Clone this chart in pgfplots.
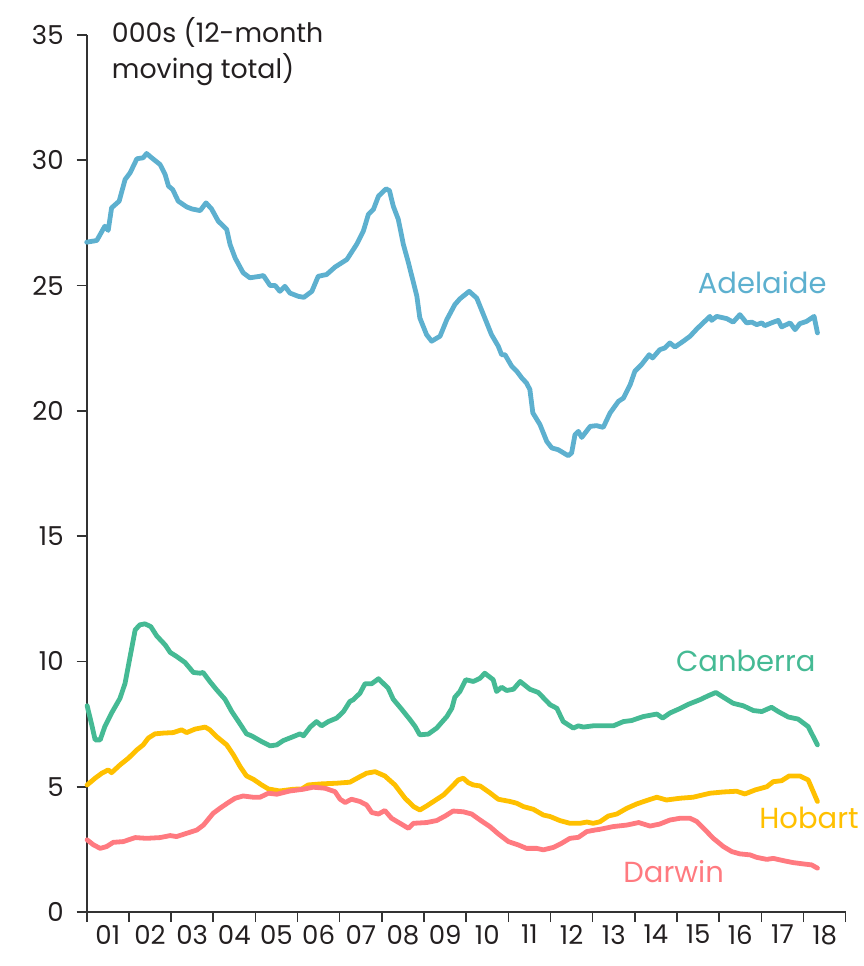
\documentclass[border=0pt]{standalone}
\usepackage{fontspec}
\setmainfont{Poppins}
\usepackage{pgfplots}
\pgfplotsset{compat=1.18}
\usetikzlibrary{calc}
\definecolor{adel}{RGB}{93,176,207}
\definecolor{canb}{RGB}{69,186,148}
\definecolor{hoba}{RGB}{255,192,0}
\definecolor{darw}{RGB}{255,122,128}
\definecolor{txt}{RGB}{35,31,32}

\begin{document}
\begin{tikzpicture}
\begin{axis}[
  name=ax,
  scale only axis,
  width=379.5pt, height=438.5pt,
  xmin=2001, xmax=2019,
  ymin=0, ymax=35,
  axis x line*=bottom, axis y line*=left,
  axis line style={black!80, line width=0.8pt},
  tick style={black!80, line width=0.8pt},
  tick align=outside,
  major tick length=5pt,
  xtick={2001,2002,...,2019},
  xticklabels={},
  extra x ticks={2001.5,2002.5,...,2018.5},
  extra x tick labels={01,02,03,04,05,06,07,08,09,10,11,12,13,14,15,16,17,18},
  extra x tick style={major tick length=0pt, tick style={draw=none}},
  ytick={0,5,...,35},
  tick label style={font=\fontsize{13}{14}\selectfont, text=txt},
  /pgf/number format/assume math mode=true,
  yticklabel style={xshift=-3pt},
  xticklabel style={yshift=-3pt},
  clip=false,
  every axis plot/.append style={line width=2.4pt, line join=round, line cap=round},
]

% Adelaide
\addplot[adel] coordinates {
(2001.00,26.73)(2001.24,26.80)(2001.43,27.37)(2001.51,27.20)(2001.59,28.10)(2001.77,28.37)(2001.91,29.23)(2002.03,29.50)(2002.19,30.06)(2002.34,30.10)(2002.42,30.27)(2002.54,30.10)(2002.74,29.83)(2002.86,29.43)(2002.94,28.97)(2003.04,28.83)(2003.17,28.37)(2003.37,28.14)(2003.49,28.06)(2003.69,27.99)(2003.83,28.30)(2003.96,28.06)(2004.12,27.57)(2004.32,27.24)(2004.40,26.64)(2004.52,26.10)(2004.71,25.51)(2004.87,25.31)(2005.11,25.37)(2005.19,25.40)(2005.35,25.00)(2005.47,25.00)(2005.58,24.77)(2005.70,24.97)(2005.82,24.70)(2006.02,24.57)(2006.15,24.53)(2006.34,24.77)(2006.49,25.37)(2006.69,25.44)(2006.89,25.74)(2007.17,26.04)(2007.40,26.64)(2007.56,27.17)(2007.68,27.84)(2007.80,28.04)(2007.92,28.57)(2008.10,28.86)(2008.18,28.79)(2008.27,28.17)(2008.39,27.64)(2008.51,26.64)(2008.63,25.91)(2008.75,25.11)(2008.83,24.57)(2008.90,23.71)(2009.06,23.04)(2009.18,22.78)(2009.38,22.98)(2009.54,23.64)(2009.73,24.24)(2009.85,24.47)(2010.07,24.77)(2010.25,24.50)(2010.44,23.71)(2010.60,23.04)(2010.76,22.58)(2010.84,22.24)(2010.92,22.24)(2011.08,21.78)(2011.20,21.58)(2011.32,21.31)(2011.43,21.11)(2011.51,20.85)(2011.58,19.92)(2011.75,19.45)(2011.91,18.78)(2012.03,18.52)(2012.18,18.45)(2012.42,18.21)(2012.50,18.32)(2012.58,19.05)(2012.66,19.18)(2012.74,18.94)(2012.94,19.38)(2013.09,19.41)(2013.25,19.34)(2013.41,19.91)(2013.61,20.38)(2013.73,20.51)(2013.89,21.05)(2014.00,21.58)(2014.16,21.85)(2014.34,22.24)(2014.42,22.11)(2014.59,22.44)(2014.71,22.51)(2014.83,22.71)(2014.95,22.55)(2015.15,22.78)(2015.31,22.98)(2015.47,23.27)(2015.70,23.64)(2015.78,23.77)(2015.82,23.61)(2015.94,23.77)(2016.18,23.68)(2016.33,23.54)(2016.49,23.84)(2016.65,23.51)(2016.77,23.54)(2016.89,23.44)(2017.01,23.51)(2017.08,23.40)(2017.24,23.51)(2017.40,23.61)(2017.48,23.35)(2017.68,23.51)(2017.80,23.24)(2017.91,23.48)(2018.07,23.57)(2018.25,23.77)(2018.33,23.11)
};

% Canberra
\addplot[canb] coordinates {
(2001.01,8.23)(2001.12,7.47)(2001.20,6.87)(2001.32,6.87)(2001.43,7.40)(2001.59,7.94)(2001.79,8.53)(2001.91,9.13)(2002.03,10.20)(2002.15,11.26)(2002.26,11.46)(2002.38,11.50)(2002.52,11.39)(2002.66,11.02)(2002.86,10.66)(2002.98,10.36)(2003.13,10.20)(2003.33,9.96)(2003.53,9.56)(2003.69,9.53)(2003.76,9.56)(2003.92,9.20)(2004.08,8.87)(2004.28,8.49)(2004.44,8.00)(2004.60,7.60)(2004.79,7.11)(2004.91,7.03)(2005.15,6.80)(2005.35,6.63)(2005.51,6.67)(2005.66,6.84)(2005.90,7.00)(2006.06,7.11)(2006.14,7.03)(2006.30,7.38)(2006.45,7.60)(2006.57,7.43)(2006.73,7.60)(2006.93,7.74)(2007.09,8.00)(2007.24,8.40)(2007.32,8.47)(2007.48,8.73)(2007.60,9.11)(2007.76,9.11)(2007.92,9.31)(2008.15,8.93)(2008.27,8.49)(2008.47,8.09)(2008.67,7.67)(2008.79,7.40)(2008.90,7.07)(2009.10,7.10)(2009.30,7.34)(2009.54,7.80)(2009.66,8.13)(2009.73,8.57)(2009.85,8.80)(2009.99,9.27)(2010.17,9.20)(2010.33,9.33)(2010.44,9.53)(2010.64,9.27)(2010.72,8.80)(2010.84,8.97)(2010.96,8.84)(2011.12,8.89)(2011.28,9.20)(2011.51,8.89)(2011.71,8.76)(2011.99,8.27)(2012.15,8.13)(2012.30,7.60)(2012.54,7.34)(2012.66,7.43)(2012.78,7.38)(2013.01,7.43)(2013.25,7.43)(2013.49,7.43)(2013.73,7.60)(2013.92,7.64)(2014.20,7.80)(2014.52,7.90)(2014.66,7.74)(2014.83,7.94)(2015.03,8.09)(2015.27,8.29)(2015.54,8.47)(2015.74,8.63)(2015.92,8.76)(2016.10,8.57)(2016.33,8.33)(2016.57,8.23)(2016.81,8.04)(2017.01,8.00)(2017.24,8.17)(2017.40,8.00)(2017.64,7.78)(2017.87,7.70)(2018.11,7.40)(2018.23,7.00)(2018.33,6.67)
};

% Hobart
\addplot[hoba] coordinates {
(2001.01,5.07)(2001.20,5.34)(2001.36,5.54)(2001.51,5.67)(2001.59,5.56)(2001.79,5.87)(2001.99,6.14)(2002.19,6.47)(2002.34,6.67)(2002.46,6.94)(2002.62,7.11)(2002.82,7.14)(2003.05,7.16)(2003.25,7.27)(2003.37,7.16)(2003.57,7.30)(2003.81,7.38)(2003.92,7.27)(2004.08,7.00)(2004.32,6.67)(2004.48,6.27)(2004.64,5.80)(2004.79,5.43)(2004.95,5.30)(2005.15,5.07)(2005.31,4.91)(2005.58,4.83)(2005.90,4.90)(2006.10,4.91)(2006.25,5.07)(2006.53,5.11)(2006.93,5.14)(2007.24,5.18)(2007.48,5.40)(2007.64,5.54)(2007.84,5.60)(2008.07,5.43)(2008.31,5.07)(2008.55,4.54)(2008.75,4.21)(2008.90,4.07)(2009.06,4.23)(2009.26,4.45)(2009.46,4.67)(2009.66,5.00)(2009.81,5.27)(2009.93,5.34)(2010.05,5.16)(2010.17,5.07)(2010.33,5.03)(2010.56,4.76)(2010.76,4.50)(2011.04,4.41)(2011.20,4.34)(2011.35,4.21)(2011.59,4.10)(2011.83,3.87)(2011.99,3.81)(2012.22,3.65)(2012.46,3.54)(2012.70,3.54)(2012.86,3.59)(2013.01,3.54)(2013.17,3.60)(2013.37,3.83)(2013.57,3.91)(2013.81,4.14)(2014.04,4.31)(2014.28,4.45)(2014.52,4.58)(2014.75,4.47)(2015.07,4.54)(2015.38,4.58)(2015.78,4.74)(2016.10,4.79)(2016.41,4.82)(2016.61,4.71)(2016.85,4.87)(2017.13,5.00)(2017.28,5.20)(2017.48,5.24)(2017.66,5.43)(2017.91,5.43)(2018.11,5.27)(2018.23,4.80)(2018.33,4.41)
};

% Darwin
\addplot[darw] coordinates {
(2001.01,2.88)(2001.16,2.68)(2001.32,2.54)(2001.47,2.61)(2001.63,2.78)(2001.87,2.81)(2002.15,2.97)(2002.42,2.94)(2002.74,2.97)(2002.98,3.05)(2003.13,3.01)(2003.37,3.14)(2003.61,3.27)(2003.77,3.47)(2004.00,3.94)(2004.16,4.14)(2004.36,4.37)(2004.52,4.54)(2004.71,4.63)(2004.95,4.58)(2005.11,4.58)(2005.31,4.74)(2005.51,4.70)(2005.82,4.83)(2006.14,4.90)(2006.37,4.98)(2006.65,4.94)(2006.89,4.80)(2007.01,4.50)(2007.13,4.37)(2007.28,4.50)(2007.48,4.41)(2007.64,4.27)(2007.76,3.97)(2007.92,3.91)(2008.07,4.05)(2008.23,3.74)(2008.43,3.54)(2008.63,3.34)(2008.75,3.54)(2009.06,3.57)(2009.30,3.65)(2009.50,3.83)(2009.69,4.03)(2009.93,4.00)(2010.13,3.91)(2010.33,3.67)(2010.56,3.41)(2010.76,3.12)(2011.00,2.81)(2011.23,2.68)(2011.43,2.54)(2011.67,2.54)(2011.83,2.48)(2012.07,2.58)(2012.26,2.74)(2012.46,2.94)(2012.66,2.98)(2012.86,3.21)(2013.05,3.27)(2013.17,3.30)(2013.49,3.41)(2013.81,3.47)(2014.09,3.57)(2014.36,3.43)(2014.59,3.51)(2014.83,3.67)(2015.07,3.74)(2015.31,3.74)(2015.47,3.61)(2015.67,3.27)(2015.86,2.94)(2016.10,2.61)(2016.30,2.41)(2016.49,2.32)(2016.73,2.28)(2016.89,2.18)(2017.13,2.10)(2017.28,2.14)(2017.52,2.05)(2017.76,1.97)(2017.99,1.92)(2018.19,1.88)(2018.33,1.75)
};

% series labels
\node[anchor=base, inner sep=0, text=adel, font=\fontsize{14.5}{16}\selectfont]
  at (axis cs:2017.02,24.70) {Adelaide};
\node[anchor=base, inner sep=0, text=canb, font=\fontsize{14.5}{16}\selectfont]
  at (axis cs:2016.63,9.60) {Canberra};
\node[anchor=base, inner sep=0, text=hoba, font=\fontsize{14.5}{16}\selectfont]
  at (axis cs:2018.13,3.34) {Hobart};
\node[anchor=base, inner sep=0, text=darw, font=\fontsize{14.5}{16}\selectfont]
  at (axis cs:2014.92,1.19) {Darwin};

% unit note
\node[anchor=north west, inner sep=0, align=left, text=txt,
      font=\fontsize{13.4}{18.3}\selectfont]
  at (axis cs:2001.59,35.72) {000s (12-month\\moving total)};
\end{axis}
\pgfresetboundingbox
\path[use as bounding box] ($(ax.south west)+(-43.35pt,-27pt)$) rectangle ($(ax.north east)+(8.65pt,17.5pt)$);
\end{tikzpicture}
\end{document}
